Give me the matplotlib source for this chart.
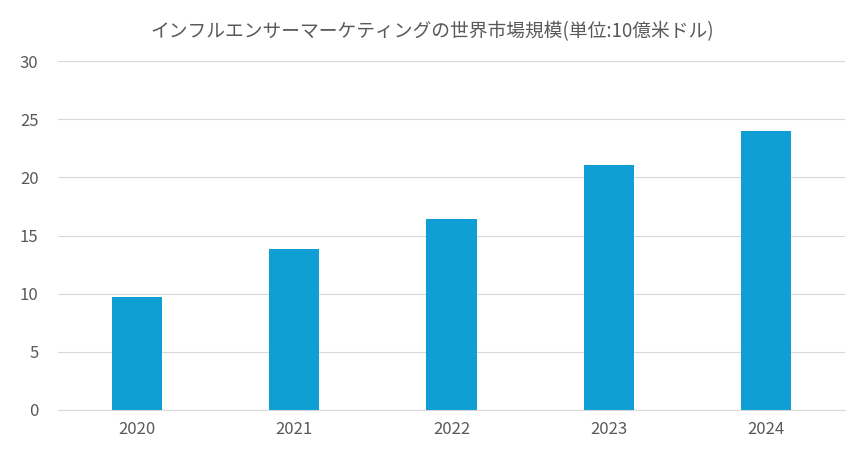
import matplotlib
matplotlib.use("Agg")
import matplotlib.pyplot as plt

years = ["2020", "2021", "2022", "2023", "2024"]
values = [9.7, 13.8, 16.4, 21.1, 24.0]
yticks = [0, 5, 10, 15, 20, 25, 30]
title = "インフルエンサーマーケティングの世界市場規模(単位:10億米ドル)"

plt.rcParams["font.family"] = "Noto Sans CJK JP"
fig = plt.figure(figsize=(8.65, 4.55), dpi=100)
ax = fig.add_axes([58/865, 1-410/455, (845-58)/865, (410-61)/455])
x = range(len(years))
ax.bar(x, values, width=0.32, color="#0f9fd4", zorder=3)
ax.set_xlim(-0.5, len(years)-0.5)
ax.set_ylim(0, 30)
ax.set_yticks(yticks)
ax.set_xticks(list(x))
ax.set_xticklabels(years)
ax.grid(axis="y", color="#d9d9d9", linewidth=0.8, zorder=0)
for s in ["top", "right", "left"]:
    ax.spines[s].set_visible(False)
ax.spines["bottom"].set_color("#d9d9d9")
ax.tick_params(length=0, labelsize=12, colors="#595959", pad=8)
ax.tick_params(axis="y", pad=14)
fig.text(0.5, 1-32/455, title, ha="center", va="center", fontsize=13.5, color="#595959")
fig.savefig("out.png", dpi=100)
